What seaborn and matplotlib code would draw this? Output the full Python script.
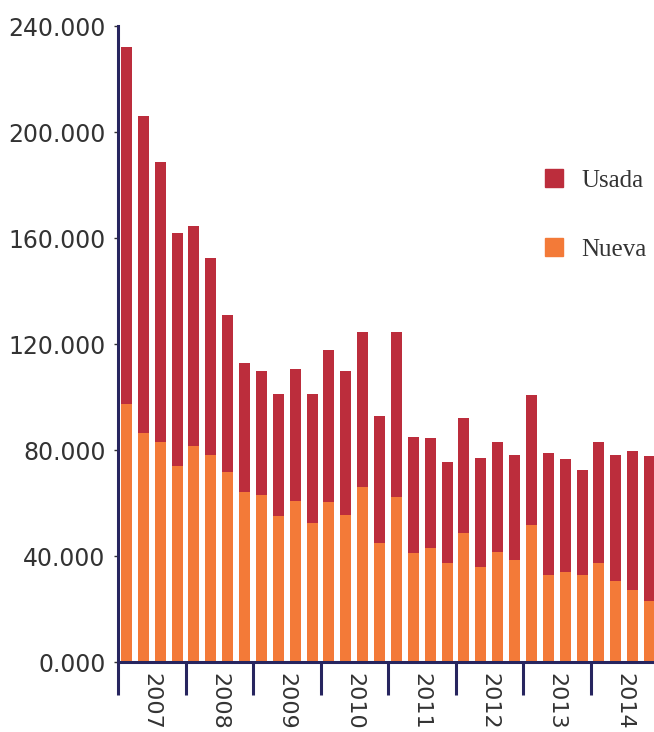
import pandas as pd
import seaborn as sns
import matplotlib
matplotlib.use("Agg")
import matplotlib.pyplot as plt
from matplotlib.patches import Patch
from matplotlib.ticker import FuncFormatter

# Quarterly sales (thousands of units), 2007 Q1 - 2014 Q4
years = ["2007", "2008", "2009", "2010", "2011", "2012", "2013", "2014"]
quarters = [f"{y}T{q}" for y in years for q in range(1, 5)]

nueva = [97.4, 86.4, 83.2, 74.0, 81.5, 78.0, 71.7, 64.0,
         63.0, 55.0, 60.7, 52.5, 60.4, 55.5, 66.0, 45.0,
         62.3, 41.1, 43.0, 37.4, 48.7, 35.8, 41.5, 38.5,
         51.7, 32.8, 34.0, 32.8, 37.4, 30.6, 27.2, 23.0]
usada = [134.6, 119.6, 105.3, 88.0, 83.0, 74.5, 59.3, 49.0,
         47.0, 46.0, 49.8, 48.5, 57.3, 54.5, 58.5, 48.0,
         62.2, 43.8, 41.5, 38.1, 43.3, 41.2, 41.5, 39.5,
         49.1, 46.1, 42.6, 39.7, 45.6, 47.4, 52.4, 54.7]

col_usada = "#bc2d3c"
col_nueva = "#f37a38"
navy = "#27255f"

df = pd.DataFrame({"trimestre": quarters,
                   "nueva": [v * 1000 for v in nueva],
                   "usada": [v * 1000 for v in usada]})
df["total"] = df["nueva"] + df["usada"]

sns.set_style("white")
plt.rcParams["font.family"] = ["DejaVu Sans"]

fig = plt.figure(figsize=(6.54, 7.32), dpi=100)
ax = fig.add_axes([118 / 654, 70 / 732, 540 / 654, 636 / 732])

# stacked: total in red underneath, new on top of it in orange
sns.barplot(data=df, x="trimestre", y="total", color=col_usada, width=0.65,
            saturation=1, errorbar=None, linewidth=0, ax=ax)
sns.barplot(data=df, x="trimestre", y="nueva", color=col_nueva, width=0.65,
            saturation=1, errorbar=None, linewidth=0, ax=ax)

ax.set_xlim(-0.5, 31.5)
ax.set_ylim(0, 240000)
ax.set_yticks(range(0, 240001, 40000))
ax.yaxis.set_major_formatter(FuncFormatter(lambda v, p: f"{v / 1000:.3f}"))
ax.tick_params(axis="y", left=True, labelsize=17, labelcolor="#333333",
               length=3, width=1, color="#333333", pad=6)

# year boundaries as long ticks, year names centred between them
ax.set_xticks([i * 4 - 0.5 for i in range(len(years) + 1)])
ax.set_xticklabels([])
ax.set_xticks([i * 4 + 1.5 for i in range(len(years))], minor=True)
ax.set_xticklabels(years, minor=True, rotation=270)
ax.tick_params(axis="x", which="major", bottom=True, length=24, width=2.2,
               color=navy, direction="out")
ax.tick_params(axis="x", which="minor", bottom=True, length=0, labelsize=16,
               labelcolor="#333333", pad=8)

ax.set_xlabel("")
ax.set_ylabel("")
sns.despine(ax=ax)
for s in ["left", "bottom"]:
    ax.spines[s].set_color(navy)
    ax.spines[s].set_linewidth(2.2)

handles = [Patch(color=col_usada, label="Usada"),
           Patch(color=col_nueva, label="Nueva")]
leg = ax.legend(handles=handles, loc="upper left",
                bbox_to_anchor=(545 / 654, 1 - 169 / 732),
                bbox_transform=fig.transFigure, frameon=False,
                prop={"family": "Liberation Serif", "size": 18},
                handlelength=0.72, handleheight=0.72, handletextpad=0.72,
                labelspacing=1.85, borderpad=0, borderaxespad=0)
for t in leg.get_texts():
    t.set_color("#333333")

fig.savefig("out.png", dpi=100)
